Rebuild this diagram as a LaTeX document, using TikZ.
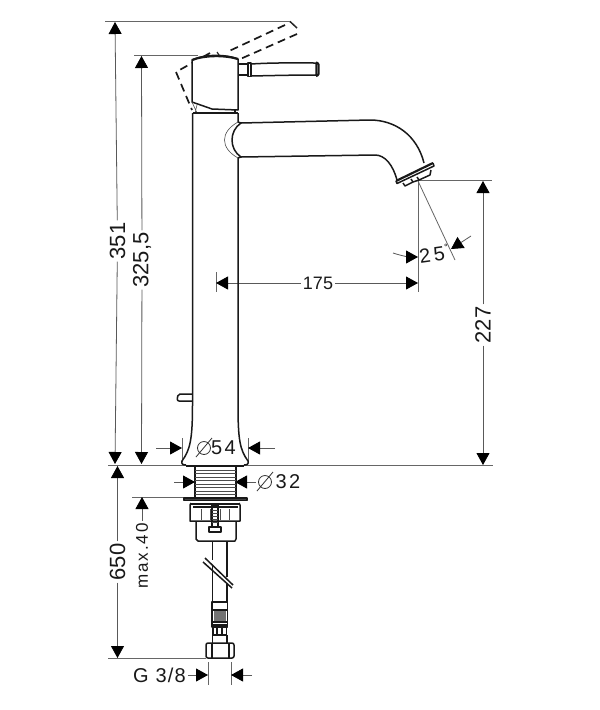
\documentclass[tikz,border=0pt]{standalone}
\usepackage{fontspec}
\setmainfont{Liberation Sans}
\usetikzlibrary{arrows.meta}
\tikzset{
  dimline/.style={line width=0.8pt,draw=black!65},
  extline/.style={line width=0.8pt,draw=black!60},
  tip/.style={dimline,-{Triangle[length=12pt,width=13pt,fill=black,color=black]}},
  thin part/.style={line width=0.6pt,draw=black!70},
  part/.style={line width=1.5pt,draw=black!90,line join=round},
  heavy/.style={line width=2.2pt,draw=black!90,line join=round},
  dashpart/.style={line width=1.7pt,draw=black!90,dash pattern=on 8pt off 5pt},
  lblv/.style={font=\fontsize{22}{24}\selectfont,inner sep=2pt,text=black!90},
  lbl/.style={font=\fontsize{18}{20}\selectfont,inner sep=2pt,text=black!90},
  lblsmall/.style={font=\addfontfeature{LetterSpace=12}\fontsize{17}{18}\selectfont,inner sep=2pt,text=black!90},
  lblg/.style={font=\addfontfeature{LetterSpace=6}\fontsize{20}{20}\selectfont,inner sep=2pt,text=black!90}
}
\begin{document}
\begin{tikzpicture}[x=1pt,y=-1pt]
\useasboundingbox (0,0) rectangle (600,710);
\fill[white] (0,0) rectangle (600,710);

% ---- extension lines
\coordinate (e351a) at (105,21.5); \coordinate (e351b) at (290,21.5);
\coordinate (e325a) at (134,55.5); \coordinate (e325b) at (198,55.5);
\coordinate (ebasea) at (108,465); \coordinate (ebaseb) at (493,465);
\coordinate (e227a) at (418,180); \coordinate (e227b) at (492,180);
\draw[extline] (e351a)--(e351b);
\draw[extline] (e325a)--(e325b);
\draw[extline] (ebasea)--(ebaseb);
\draw[extline] (e227a)--(e227b);
\draw[extline] (418,180)--(418,292);
\draw[extline] (418,181)--(455,260);
\draw[extline] (216,272)--(216,292);
\draw[extline] (182,438)--(182,462);
\draw[extline] (248,438)--(248,462);
\draw[extline] (132,497)--(184,497);
\draw[extline] (108,658)--(206,658);
\draw[extline] (208,662)--(208,685);
\draw[extline] (231,662)--(231,685);

% ---- labels
\node[lblv,rotate=90] (l351) at (117.5,241) {351};
\node[lblv,rotate=90] (l325) at (142,260) {325,5};
\node[lblv,rotate=90] (l227) at (483,325) {227};
\node[lbl] (l175) at (318,283) {175};
\node[lblv,rotate=90] (l650) at (117.5,562) {650};
\node[lblsmall,rotate=90] (l40) at (142,556) {max.40};
\node[lbl,font=\fontsize{20}{20}\selectfont,rotate=8] (l25) at (432,255) {2\,5};
\node[font=\fontsize{9}{9}\selectfont,inner sep=0pt] (ldeg) at (446,247) {°};
\node[lbl,font=\fontsize{20}{20}\selectfont] (l54) at (223.5,448) {5\kern2.5pt 4};
\node[lbl,font=\fontsize{20}{20}\selectfont] (l32) at (288,482) {3\kern2.5pt 2};
\node[lblg] (lg) at (159.5,675) {G 3/8};
% diameter signs
\draw[line width=0.8pt,black!80] (204,448) circle (6.5pt) (196,457)--(212,438);
\draw[line width=0.8pt,black!80] (265,482) circle (6.5pt) (257,491)--(273,472);

% ---- dimension arrows
\draw[tip] (l351) -- (115,22);
\draw[tip] (l351) -- (115,464);
\draw[tip] (l325) -- (141.5,56);
\draw[tip] (l325) -- (141.5,464);
\draw[tip] (l227) -- (483,181);
\draw[tip] (l227) -- (483,465);
\draw[tip] (l175) -- (216,283);
\draw[tip] (l175) -- (418,283);
\draw[tip] (l650) -- (117.5,466);
\draw[tip] (l650) -- (117.5,658);
\draw[tip] (l40) -- (142,497);
\draw[tip] (156,448) -- (182,448);
\draw[tip] (275,448) -- (248,448);
\draw[tip] (174,482) -- (195,482);
\draw[tip] (256,482) -- (235,482);
\draw[tip] (lg) -- (208,675);
\draw[tip] (252,675) -- (231,675);
\draw[tip] (393,253) .. controls (402,256) and (410,257) .. (418,257);
\draw[tip] (471,236) -- (451,249);

% ---- dashed lever
\draw[line width=1.5pt,black!85] (290,21.5)--(297,28);
\draw[dashpart] (285,25)--(227,52);
\draw[dashpart] (297,34)--(238,60);
\draw[dashpart] (210,53)--(176,72)--(192,110);
\draw[line width=1.2pt,black!85] (217,52)--(219,55);

% ---- lever body
\draw[part,fill=white] (192,60) .. controls (205,54) and (225,54) .. (238,59) -- (238,110)
   -- (212,109) -- (192,102) -- cycle;
\draw[heavy] (192,60) .. controls (205,55) and (225,55) .. (238,59);
\draw[thin part] (192,102)--(197,113) (197,105)--(195,113);
\draw[part] (235,110)--(235,113);
\draw[part] (238,64)--(248,64) (238,75)--(248,75);
\draw[part] (248,63) rectangle (251,76.5);
\draw[part] (251,64) .. controls (275,62.5) and (295,63) .. (316,63)
   -- (316,75) .. controls (295,75) and (275,75.5) .. (251,76);
\draw[heavy,rounded corners=1pt] (316,62.5) -- (318.5,63.5) -- (318.5,75) -- (316,76);

% ---- body
\draw[heavy] (192.5,113) -- (238,113);
\draw[part] (192.5,113) -- (192.5,405) .. controls (192.5,440) and (190,450) .. (182,461)
   .. controls (181,464) and (183,465) .. (186,465);
\draw[part] (238,113) -- (238,122) (238,158) -- (238,405)
   .. controls (238,440) and (240,450) .. (248,461) .. controls (249,464) and (247,465) .. (244,465);
\draw[thin part] (238,122) .. controls (220,132) and (220,148) .. (238,158);
\draw[part] (238,122) -- (241,123) .. controls (229,131) and (229,149) .. (241,157) -- (238,158);
% peg
\draw[part,rounded corners=2pt] (192,394) -- (178,394) -- (177,401) -- (192,401);

% ---- spout
\draw[part] (241,123) -- (370,120) .. controls (395,120) and (417,135) .. (424,163);
\draw[part] (241,157) -- (375,155) .. controls (385,155) and (393,165) .. (397,180);
\draw[heavy] (396,181) -- (433,163);
\draw[part] (396,181) -- (397,183.5) -- (434,166) -- (433,163);
\draw[part] (403,183) -- (405,186) -- (413,182) -- (419,180) -- (430,175) -- (431,170);
\draw[part] (411,179) -- (413,182) (417,177) -- (419,180);

% ---- threaded shank
\draw[heavy] (186,466) -- (244,466);
\draw[part] (195,467) -- (195,497) (236,467) -- (236,497);
\foreach \yy in {470,473.5,477,480.5,484,487.5,491,494.5}
  \draw[thin part] (195,\yy) -- (236,\yy);
\draw[part,fill=black!75] (184,498) rectangle (247,500.5);
% nut
\draw[part] (191,503) -- (190,505) -- (190,521) -- (240,521) -- (240,505) -- (239,503);
\draw[heavy] (191,504) -- (240,504);
\draw[part] (193,507) -- (238,507);
\foreach \xx in {201,210,220,229}
  \draw[thin part] (\xx,509) -- (\xx,520);
\draw[part] (212,505) rectangle (218,527);
\foreach \yy in {510,513,516,519,522}
  \draw[thin part] (212,\yy) -- (218,\yy);
\draw[part] (209,527) rectangle (221,532);
\draw[part] (196,521) -- (196,539) -- (198,541) -- (235,541) -- (236,539) -- (236,521);

% ---- hose
\draw[part] (212.5,541) -- (212.5,560) (212.5,566) -- (212.5,602);
\draw[part] (227,541) -- (227,577) (227,583) -- (227,602);
\draw[part] (205,558) -- (233,585);
\draw[part] (203,562) -- (232,588);
% fitting
\draw[part] (212,602) rectangle (227.5,610);
\fill[black!55] (214,611) rectangle (226,622);
\foreach \yy in {610,622}
  \draw[part] (212,\yy) -- (227.5,\yy);
\draw[part] (212,610) -- (212,625) (227.5,610) -- (227.5,625);
\draw[part] (212,625) rectangle (227.5,627);
\draw[part] (213,627) -- (213,635) (217,627) -- (217,635) (222,627) -- (222,635) (226.5,627) -- (226.5,635);
\draw[part] (213,635) -- (226.5,635);
\draw[part] (212.5,635) -- (212.5,643) (227,635) -- (227,643);
% union nut
\draw[part,rounded corners=2pt] (206,643) -- (234,643) -- (234,658) -- (206,658) -- cycle;
\draw[part] (212,643) -- (212,658) (229,643) -- (229,658);
\end{tikzpicture}
\end{document}
